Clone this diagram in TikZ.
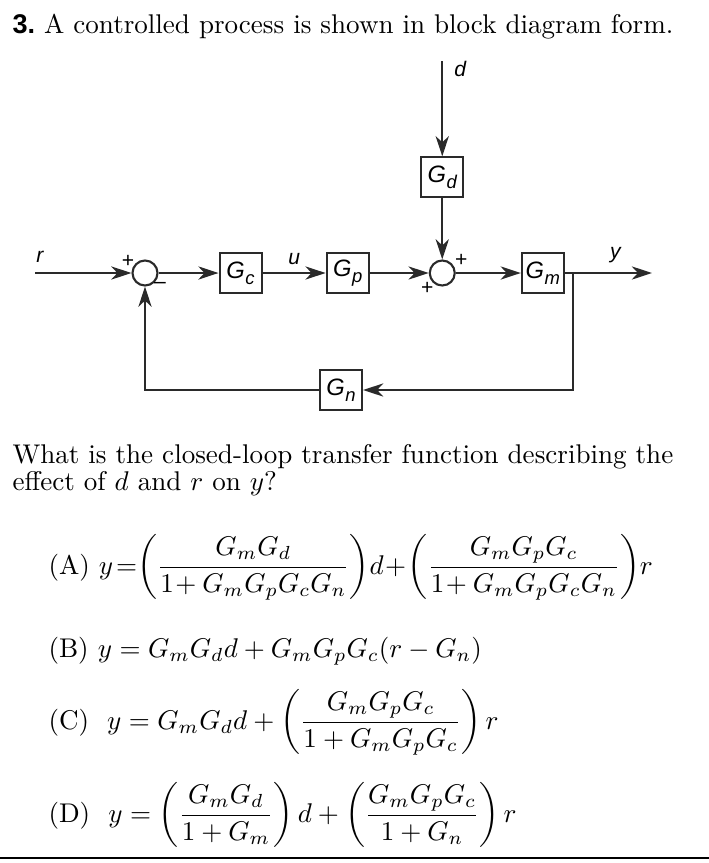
\documentclass[tikz,border=0pt]{standalone}
\usepackage{amsmath}
\usepackage{fontspec}
\usetikzlibrary{arrows.meta, positioning}
\newfontfamily\blockfont{Liberation Sans}
\definecolor{wirecol}{HTML}{2A2A2A}
\newcommand{\blk}[2]{{\blockfont\itshape\fontsize{13.5}{14}\selectfont #1\kern0.3pt\raisebox{-0.5ex}{\fontsize{10.5}{11}\selectfont #2}}}
\newcommand{\sig}[1]{{\blockfont\itshape\fontsize{12}{12}\selectfont #1}}

\begin{document}
\begin{tikzpicture}[
    x=0.02cm, y=-0.02cm,
    every node/.style={font=\fontsize{10}{12}\selectfont},
    block/.style={rectangle, draw=wirecol, line width=1.2pt, minimum width=0.84cm,
                  minimum height=0.8cm, inner sep=0pt},
    sumnode/.style={circle, draw=wirecol, line width=1.2pt, minimum size=0.5cm, inner sep=0pt},
    arr/.style={-{Stealth[length=11.5pt, width=7.5pt, inset=3.5pt]}, line width=1.2pt, draw=wirecol},
    sign/.style={font=\blockfont\fontsize{12}{12}\selectfont, inner sep=0pt},
    txt/.style={anchor=base west, inner sep=0pt, scale=1.54},
    eqn/.style={anchor=base west, inner sep=0pt, scale=1.54},
]
\useasboundingbox (0,0) rectangle (709,863);

\node[txt] (title) at (12,33) {{\blockfont\bfseries 3.}\ A controlled process is shown in block diagram form.};

% Block diagram
\node[sumnode] (sumr) at (145,273) {};
\node[block, right=1.2cm of sumr] (gc) {\blk{G}{c}};
\node[block, right=1.26cm of gc] (gp) {\blk{G}{p}};
\node[sumnode, right=1.18cm of gp] (sumd) {};
\node[block, right=1.3cm of sumd] (gm) {\blk{G}{m}};
\node[block, above=1.22cm of sumd] (gd) {\blk{G}{d}};
\node[block] (gn) at (341,390) {\blk{G}{n}};

\coordinate (rin) at (35,273);
\coordinate[above=1.9cm of gd] (din);
\coordinate (yout) at (652,273);
\coordinate (tap) at (573,273);

% Signs
\node[sign] (sumrtop) at ([shift={(-17,-12)}]sumr) {+};
\node[sign] (sumrbot) at ([shift={(15,12)}]sumr) {\textendash};
\node[sign] (sumdtop) at ([shift={(19,-13)}]sumd) {+};
\node[sign] (sumdbot) at ([shift={(-15,15)}]sumd) {+};

% Arrows
\draw[arr] (rin) -- node[above=2pt, pos=0.05]{\sig{r}} (sumr);
\draw[arr] (sumr) -- (gc);
\draw[arr] (gc) -- node[above=1pt]{\sig{u}} (gp);
\draw[arr] (gp) -- (sumd);
\draw[arr] (sumd) -- (gm);
\draw[arr] (din) -- node[right=3pt, pos=0.08]{\sig{d}} (gd);
\draw[arr] (gd) -- (sumd);
\draw[arr] (gm) -- node[above=2pt, pos=0.58]{\sig{y}} (yout);

% Feedback path
\draw[arr] (tap) |- (gn);
\draw[arr] (gn) -| (sumr);

% Question
\node[txt] (qline1) at (12,463) {What is the closed-loop transfer function describing the};
\node[txt] (qline2) at (12,490) {effect of $d$ and $r$ on $y$?};

\node[eqn] (optA) at (48,574) {(A) $y\mskip2mu{=}\!\left(\dfrac{G_mG_d}{1\!+G_mG_pG_cG_n}\right)\!d\!+\!\left(\dfrac{G_mG_pG_c}{1\!+G_mG_pG_cG_n}\right)\!r$};
\node[eqn] (optB) at (48,657) {(B)\ $y=G_mG_dd+G_mG_pG_c(r-G_n)$};
\node[eqn] (optC) at (48,729) {(C)\ \ $y=G_mG_dd+\left(\dfrac{G_mG_pG_c}{1+G_mG_pG_c}\right)r$};
\node[eqn] (optD) at (48,822) {(D)\ \ $y=\left(\dfrac{G_mG_d}{1+G_m}\right)d+\left(\dfrac{G_mG_pG_c}{1+G_n}\right)r$};

\draw[line width=1.5pt] (0,858) -- (709,858);
\end{tikzpicture}
\end{document}
